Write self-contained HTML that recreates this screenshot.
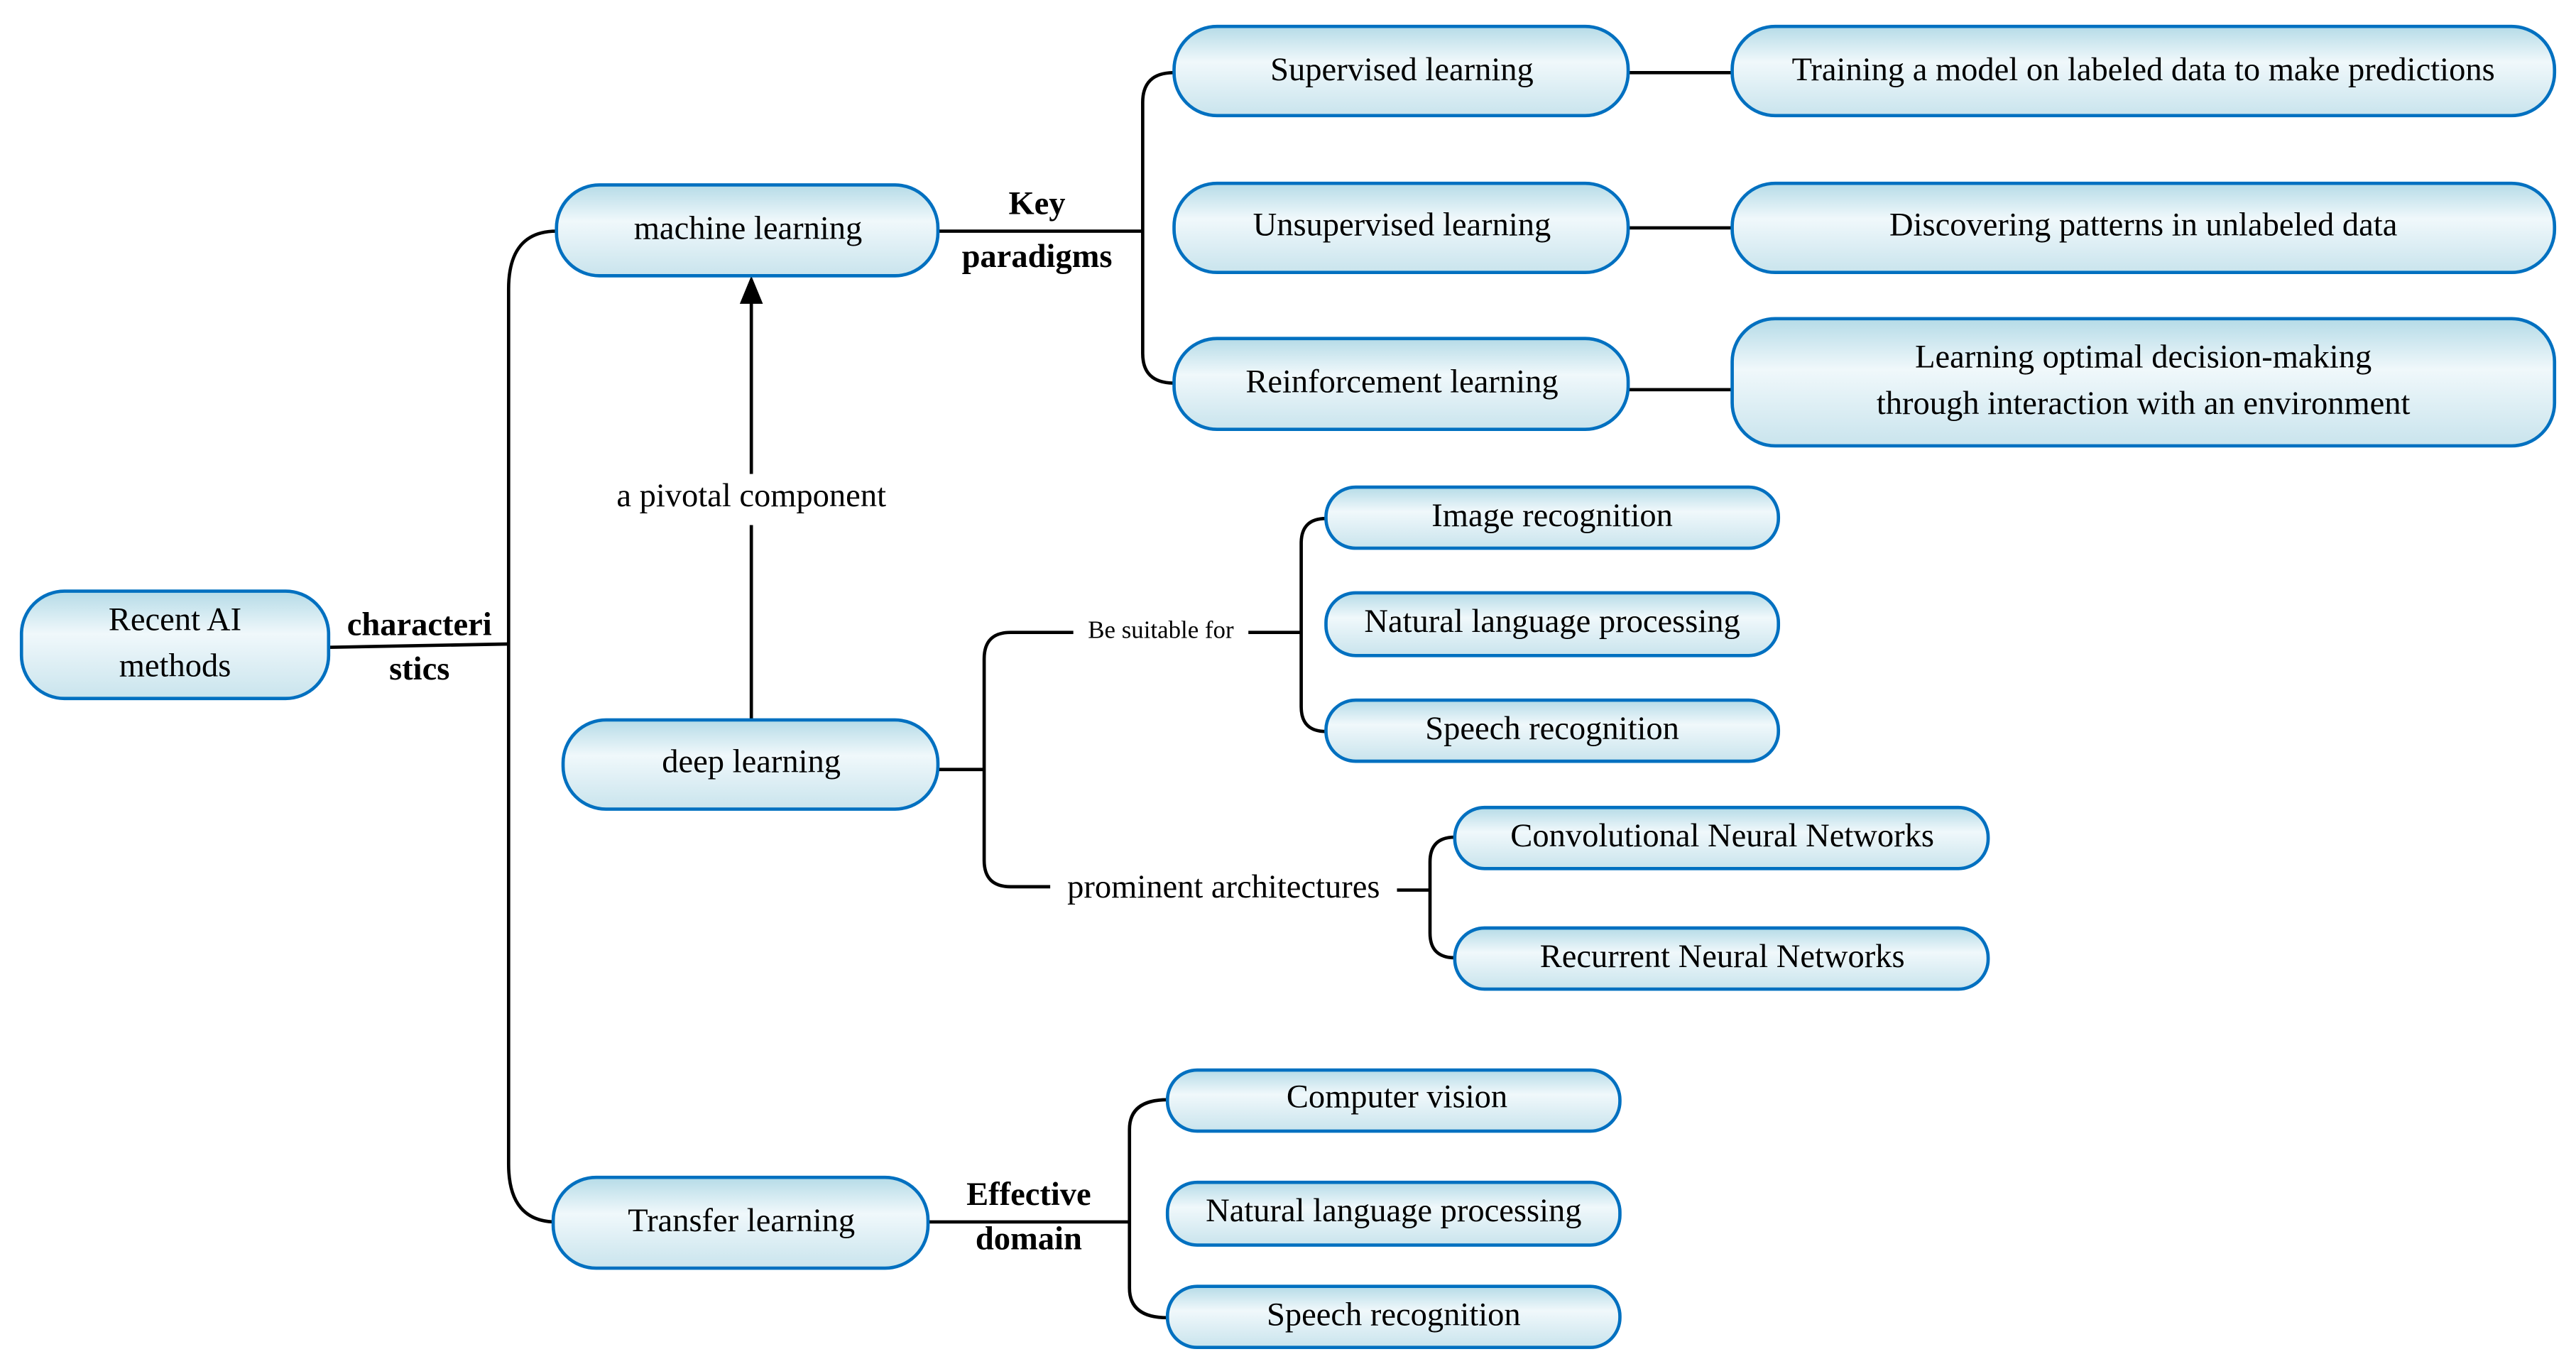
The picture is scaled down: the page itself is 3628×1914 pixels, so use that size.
<!DOCTYPE html>
<html><head><meta charset="utf-8"><style>
html,body{margin:0;padding:0;background:#fff;}
svg{display:block;}
text{font-family:"Liberation Serif",serif;font-size:20px;fill:#000;text-anchor:middle;dominant-baseline:middle;}
.b{font-weight:bold;}
</style></head><body>
<svg width="3628" height="1914" viewBox="0 0 1560 823" xmlns="http://www.w3.org/2000/svg">
<defs>
<linearGradient id="g" x1="0" y1="0" x2="0" y2="1">
<stop offset="0" stop-color="#b5dbe7"/><stop offset="0.4" stop-color="#f0f8fb"/><stop offset="1" stop-color="#c9e4ed"/>
</linearGradient>
</defs>
<g fill="none" stroke="#000" stroke-width="2">
<path d="M199 392 L308 390"/>
<path d="M337 140 Q308 140 308 175 L308 705 Q308 740 337 740"/>
<path d="M455 436 L455 318 M455 287 L455 182"/>
<path d="M568 140 L692 140"/>
<path d="M711 44 Q692 44 692 62 L692 214 Q692 232 711 232"/>
<path d="M986 44 L1049 44 M986 138 L1049 138 M986 236 L1049 236"/>
<path d="M568 466 L596 466"/>
<path d="M650 383 L612 383 Q596 383 596 399 L596 521 Q596 537 612 537 L636 537"/>
<path d="M756 383 L788 383"/>
<path d="M803 314 Q788 314 788 329 L788 428 Q788 443 803 443"/>
<path d="M846 539 L866 539"/>
<path d="M881 507 Q866 507 866 522 L866 565 Q866 580 881 580"/>
<path d="M562 740 L684 740"/>
<path d="M707 666 Q684 666 684 684 L684 780 Q684 798 707 798"/>
</g>
<polygon points="455,167 448,184 462,184" fill="#000"/>
<g fill="url(#g)" stroke="#0070c0" stroke-width="2">
<rect x="13" y="358" width="186" height="65" rx="26"/>
<rect x="337" y="112" width="231" height="55" rx="26"/>
<rect x="341" y="436" width="227" height="54" rx="26"/>
<rect x="335" y="713" width="227" height="55" rx="26"/>
<rect x="711" y="16" width="275" height="54" rx="26"/>
<rect x="711" y="111" width="275" height="54" rx="26"/>
<rect x="711" y="205" width="275" height="55" rx="26"/>
<rect x="1049" y="16" width="498" height="54" rx="26"/>
<rect x="1049" y="111" width="498" height="54" rx="26"/>
<rect x="1049" y="193" width="498" height="77" rx="26"/>
<rect x="803" y="295" width="274" height="37" rx="18"/>
<rect x="803" y="359" width="274" height="38" rx="18"/>
<rect x="803" y="424" width="274" height="37" rx="18"/>
<rect x="881" y="489" width="323" height="37" rx="18"/>
<rect x="881" y="562" width="323" height="37" rx="18"/>
<rect x="707" y="648" width="274" height="37" rx="18"/>
<rect x="707" y="716" width="274" height="38" rx="18"/>
<rect x="707" y="779" width="274" height="37" rx="18"/>
</g>
<text x="106" y="377">Recent AI</text>
<text x="106" y="405">methods</text>
<text x="453" y="140">machine learning</text>
<text x="455" y="463">deep learning</text>
<text x="449" y="741">Transfer learning</text>
<text x="849" y="44">Supervised learning</text>
<text x="849" y="138">Unsupervised learning</text>
<text x="849" y="233">Reinforcement learning</text>
<text x="1298" y="44">Training a model on labeled data to make predictions</text>
<text x="1298" y="138">Discovering patterns in unlabeled data</text>
<text x="1298" y="218">Learning optimal decision-making</text>
<text x="1298" y="246">through interaction with an environment</text>
<text x="940" y="314">Image recognition</text>
<text x="940" y="378">Natural language processing</text>
<text x="940" y="443">Speech recognition</text>
<text x="1043" y="508">Convolutional Neural Networks</text>
<text x="1043" y="581">Recurrent Neural Networks</text>
<text x="846" y="666">Computer vision</text>
<text x="844" y="735">Natural language processing</text>
<text x="844" y="798">Speech recognition</text>
<text x="455" y="302">a pivotal component</text>
<text x="703" y="383" style="font-size:15px">Be suitable for</text>
<text x="741" y="539">prominent architectures</text>
<text class="b" x="254" y="380">characteri</text>
<text class="b" x="254" y="407">stics</text>
<text class="b" x="628" y="125">Key</text>
<text class="b" x="628" y="157">paradigms</text>
<text class="b" x="623" y="725">Effective</text>
<text class="b" x="623" y="752">domain</text>
</svg>
</body></html>
